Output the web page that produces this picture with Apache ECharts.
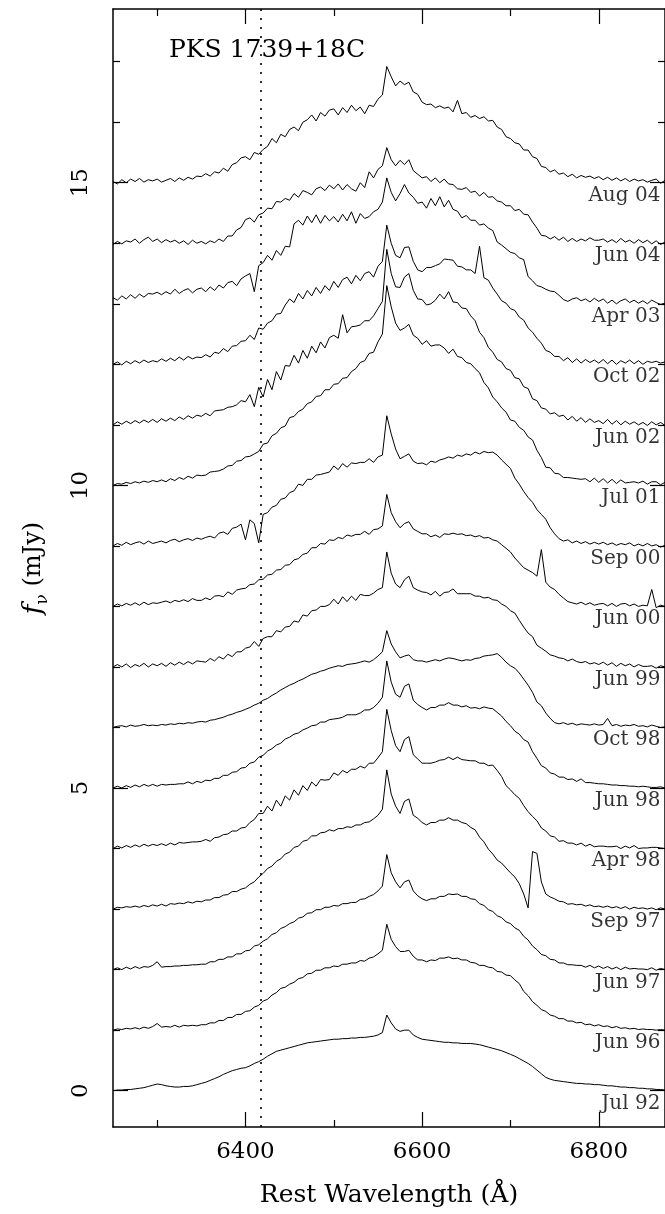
<!DOCTYPE html>
<html><head><meta charset="utf-8">
<script src="https://cdn.jsdelivr.net/npm/echarts@6/dist/echarts.min.js"></script>
<style>html,body{margin:0;padding:0;background:#fff}#c{width:665px;height:1214px}</style>
</head><body><div id="c"></div>
<script>
const wavelengths = [
6250,6255,6260,6265,6270,6275,6280,6285,6290,6295,
6300,6305,6310,6315,6320,6325,6330,6335,6340,6345,
6350,6355,6360,6365,6370,6375,6380,6385,6390,6395,
6400,6405,6410,6415,6420,6425,6430,6435,6440,6445,
6450,6455,6460,6465,6470,6475,6480,6485,6490,6495,
6500,6505,6510,6515,6520,6525,6530,6535,6540,6545,
6550,6555,6560,6565,6570,6575,6580,6585,6590,6595,
6600,6605,6610,6615,6620,6625,6630,6635,6640,6645,
6650,6655,6660,6665,6670,6675,6680,6685,6690,6695,
6700,6705,6710,6715,6720,6725,6730,6735,6740,6745,
6750,6755,6760,6765,6770,6775,6780,6785,6790,6795,
6800,6805,6810,6815,6820,6825,6830,6835,6840,6845,
6850,6855,6860,6865,6870,6875];

const epochs = ['Jul 92','Jun 96','Jun 97','Sep 97','Apr 98','Jun 98','Oct 98','Jun 99','Jun 00','Sep 00','Jul 01','Jun 02','Oct 02','Apr 03','Jun 04','Aug 04'];
const offsets = [0,1,2,3,4,5,6,7,8,9,10,11,12,13,14,15];

const fluxJul92 = [
0.0,0.01,0.01,0.02,0.02,0.03,0.04,0.05,0.07,0.09,
0.11,0.1,0.08,0.07,0.06,0.06,0.07,0.07,0.08,0.1,
0.12,0.14,0.17,0.2,0.23,0.27,0.3,0.33,0.35,0.37,
0.38,0.41,0.45,0.48,0.52,0.57,0.61,0.65,0.67,0.69,
0.71,0.73,0.75,0.77,0.79,0.8,0.81,0.82,0.83,0.84,
0.85,0.85,0.86,0.86,0.87,0.87,0.88,0.88,0.89,0.9,
0.92,0.96,1.25,1.12,1.02,0.98,1.0,1.0,0.92,0.88,
0.85,0.84,0.83,0.82,0.81,0.8,0.8,0.79,0.79,0.78,
0.78,0.78,0.77,0.76,0.74,0.72,0.7,0.68,0.66,0.63,
0.6,0.57,0.53,0.49,0.45,0.4,0.34,0.28,0.22,0.19,
0.17,0.16,0.15,0.14,0.13,0.12,0.12,0.11,0.11,0.1,
0.1,0.09,0.08,0.08,0.07,0.06,0.06,0.05,0.05,0.04,
0.04,0.03,0.03,0.02,0.02,0.01];

const fluxJun96 = [
0.0,0.02,0.01,0.03,0.02,0.04,0.02,0.05,0.03,0.06,
0.11,0.05,0.06,0.05,0.08,0.05,0.08,0.07,0.08,0.07,
0.09,0.09,0.12,0.12,0.16,0.16,0.21,0.21,0.26,0.26,
0.31,0.32,0.38,0.41,0.48,0.51,0.58,0.62,0.69,0.71,
0.76,0.79,0.85,0.87,0.93,0.94,0.99,0.99,1.03,1.03,
1.06,1.05,1.09,1.09,1.11,1.11,1.15,1.14,1.19,1.21,
1.26,1.32,1.75,1.5,1.38,1.3,1.3,1.32,1.22,1.16,
1.16,1.13,1.16,1.15,1.19,1.19,1.21,1.18,1.19,1.16,
1.16,1.12,1.11,1.07,1.07,1.04,1.03,0.97,0.96,0.91,
0.9,0.83,0.77,0.64,0.57,0.47,0.41,0.34,0.31,0.25,
0.23,0.19,0.19,0.15,0.15,0.12,0.13,0.09,0.1,0.07,
0.09,0.06,0.07,0.04,0.06,0.03,0.04,0.02,0.03,0.01,
0.02,0.01,0.01,0.0,0.01,0.0];

const fluxJun97 = [
0.0,0.03,0.0,0.04,0.01,0.05,0.02,0.05,0.04,0.07,
0.13,0.04,0.05,0.05,0.06,0.06,0.07,0.07,0.08,0.08,
0.09,0.09,0.13,0.13,0.17,0.17,0.21,0.21,0.26,0.26,
0.31,0.32,0.39,0.41,0.47,0.51,0.58,0.61,0.68,0.71,
0.76,0.79,0.85,0.87,0.93,0.94,0.99,0.99,1.03,1.03,
1.06,1.05,1.09,1.09,1.11,1.11,1.16,1.17,1.21,1.24,
1.3,1.38,1.9,1.6,1.45,1.35,1.45,1.48,1.3,1.22,
1.17,1.14,1.17,1.17,1.21,1.21,1.25,1.24,1.25,1.21,
1.21,1.17,1.16,1.09,1.06,0.99,0.96,0.89,0.86,0.79,
0.76,0.69,0.65,0.55,0.49,0.39,0.33,0.25,0.23,0.17,
0.16,0.11,0.11,0.08,0.08,0.07,0.07,0.04,0.07,0.03,
0.06,0.02,0.05,0.01,0.04,0.0,0.04,0.01,0.02,0.01,
0.01,0.0,0.03,-0.01,0.02,0.0];

const fluxSep97 = [
0.0,0.03,0.02,0.04,0.03,0.05,0.03,0.06,0.04,0.07,
0.05,0.08,0.05,0.09,0.08,0.1,0.09,0.12,0.1,0.13,
0.12,0.15,0.15,0.19,0.19,0.23,0.24,0.29,0.29,0.33,
0.35,0.41,0.45,0.53,0.59,0.67,0.71,0.79,0.83,0.91,
0.94,1.02,1.04,1.12,1.14,1.21,1.21,1.26,1.27,1.31,
1.29,1.33,1.33,1.36,1.35,1.39,1.39,1.43,1.44,1.49,
1.55,1.65,2.3,1.9,1.7,1.58,1.78,1.82,1.55,1.5,
1.43,1.39,1.43,1.43,1.47,1.47,1.51,1.47,1.47,1.43,
1.41,1.35,1.31,1.19,1.11,0.99,0.91,0.81,0.76,0.68,
0.6,0.53,0.42,0.25,0.02,0.95,0.92,0.45,0.25,0.2,
0.17,0.13,0.12,0.08,0.09,0.07,0.08,0.05,0.07,0.04,
0.05,0.03,0.05,0.02,0.04,0.01,0.04,0.0,0.03,0.01,
0.02,0.0,0.02,-0.01,0.02,0.0];

const fluxApr98 = [
0.0,0.04,0.01,0.05,0.02,0.06,0.03,0.07,0.04,0.07,
0.05,0.08,0.05,0.09,0.06,0.1,0.09,0.1,0.11,0.11,
0.12,0.15,0.12,0.18,0.19,0.23,0.24,0.29,0.29,0.34,
0.35,0.43,0.48,0.58,0.58,0.7,0.62,0.8,0.7,0.87,
0.8,0.97,0.88,1.04,0.96,1.1,1.03,1.14,1.13,1.14,
1.25,1.21,1.29,1.25,1.31,1.31,1.36,1.33,1.41,1.41,
1.5,1.6,2.3,1.95,1.7,1.6,1.8,1.85,1.55,1.48,
1.41,1.41,1.41,1.43,1.46,1.47,1.51,1.47,1.51,1.47,
1.46,1.45,1.45,1.41,1.41,1.37,1.38,1.29,1.19,1.04,
0.97,0.89,0.83,0.71,0.61,0.53,0.46,0.34,0.29,0.21,
0.19,0.12,0.13,0.09,0.09,0.06,0.09,0.04,0.07,0.03,
0.04,0.04,0.03,0.03,0.04,0.0,0.04,0.01,0.05,0.0,
0.01,0.01,0.02,0.02,0.01,0.0];

const fluxJun98 = [
0.0,0.03,0.0,0.04,0.01,0.05,0.02,0.06,0.03,0.06,
0.03,0.06,0.05,0.06,0.06,0.07,0.07,0.1,0.07,0.11,
0.09,0.13,0.12,0.16,0.16,0.21,0.21,0.26,0.27,0.33,
0.34,0.41,0.43,0.51,0.54,0.61,0.65,0.71,0.74,0.81,
0.84,0.89,0.91,0.96,0.99,1.03,1.04,1.09,1.09,1.13,
1.14,1.15,1.17,1.21,1.21,1.21,1.24,1.29,1.29,1.33,
1.4,1.5,2.1,1.75,1.55,1.5,1.68,1.72,1.45,1.38,
1.33,1.29,1.33,1.33,1.37,1.37,1.41,1.37,1.37,1.34,
1.36,1.32,1.33,1.31,1.34,1.32,1.31,1.25,1.19,1.1,
1.03,0.94,0.89,0.8,0.76,0.6,0.49,0.37,0.33,0.25,
0.23,0.18,0.18,0.14,0.15,0.11,0.15,0.09,0.09,0.08,
0.07,0.07,0.06,0.05,0.05,0.04,0.04,0.03,0.03,0.02,
0.03,0.02,0.01,0.01,0.02,0.0];

const fluxOct98 = [
0.0,0.02,0.03,0.01,0.04,0.02,0.03,0.05,0.03,0.04,
0.03,0.05,0.04,0.06,0.05,0.07,0.06,0.08,0.07,0.09,
0.1,0.09,0.12,0.13,0.15,0.17,0.2,0.22,0.25,0.27,
0.3,0.33,0.37,0.4,0.45,0.48,0.53,0.57,0.62,0.66,
0.7,0.73,0.77,0.8,0.84,0.88,0.9,0.93,0.95,0.98,
1.0,1.02,1.01,1.04,1.05,1.06,1.08,1.1,1.08,1.12,
1.18,1.25,1.6,1.38,1.25,1.15,1.18,1.2,1.12,1.1,
1.1,1.08,1.1,1.12,1.1,1.13,1.15,1.14,1.12,1.1,
1.12,1.11,1.14,1.15,1.18,1.19,1.2,1.22,1.16,1.08,
1.02,0.98,0.9,0.8,0.7,0.58,0.42,0.36,0.24,0.15,
0.08,0.06,0.08,0.05,0.07,0.04,0.06,0.05,0.04,0.06,
0.04,0.05,0.15,0.03,0.05,0.02,0.04,0.03,0.05,0.02,
0.03,0.01,0.04,0.02,0.0,0.01];

const fluxJun99 = [
0.0,0.04,0.0,0.05,-0.01,0.04,0.01,0.06,0.0,0.05,
0.02,0.06,0.01,0.07,0.03,0.08,0.04,0.09,0.05,0.1,
0.09,0.08,0.14,0.1,0.17,0.13,0.21,0.17,0.25,0.25,
0.31,0.33,0.42,0.34,0.47,0.5,0.5,0.6,0.58,0.66,
0.67,0.76,0.74,0.86,0.84,0.93,0.94,1.0,1.0,1.03,
1.12,1.04,1.16,1.08,1.17,1.1,1.2,1.18,1.18,1.22,
1.28,1.31,1.9,1.55,1.37,1.31,1.44,1.5,1.31,1.27,
1.24,1.23,1.19,1.25,1.17,1.23,1.24,1.29,1.21,1.21,
1.21,1.21,1.17,1.17,1.14,1.15,1.11,1.1,1.04,1.0,
0.93,0.89,0.77,0.66,0.56,0.5,0.36,0.31,0.26,0.2,
0.18,0.15,0.14,0.1,0.13,0.09,0.07,0.09,0.05,0.07,
0.04,0.08,0.03,0.07,0.01,0.06,0.02,0.05,0.0,0.04,
0.01,0.01,0.02,-0.02,0.02,0.0];

const fluxJun00 = [
0.0,0.04,0.01,0.05,0.02,0.06,0.02,0.07,0.03,0.06,
0.05,0.07,0.09,0.06,0.1,0.08,0.11,0.08,0.13,0.1,
0.1,0.14,0.11,0.17,0.18,0.16,0.24,0.2,0.27,0.29,
0.3,0.36,0.37,0.44,0.45,0.52,0.53,0.6,0.61,0.68,
0.69,0.77,0.79,0.86,0.88,0.97,0.97,1.04,1.03,1.1,
1.09,1.14,1.12,1.18,1.16,1.19,1.19,1.24,1.19,1.27,
1.28,1.33,1.85,1.55,1.4,1.3,1.37,1.4,1.28,1.24,
1.2,1.2,1.15,1.18,1.14,1.2,1.19,1.21,1.19,1.2,
1.17,1.18,1.15,1.17,1.13,1.14,1.1,1.08,1.02,0.96,
0.9,0.8,0.72,0.64,0.6,0.56,0.5,0.94,0.4,0.32,
0.28,0.2,0.14,0.08,0.06,0.04,0.07,0.03,0.06,0.02,
0.04,0.05,0.01,0.05,0.0,0.04,0.05,0.01,0.04,0.0,
0.02,0.01,0.28,-0.02,0.02,0.0];

const fluxSep00 = [
0.0,0.04,0.01,0.06,0.02,0.05,0.07,0.03,0.08,0.04,
0.06,0.08,0.05,0.09,0.11,0.07,0.1,0.12,0.09,0.13,
0.11,0.14,0.16,0.13,0.21,0.23,0.19,0.29,0.31,0.36,
0.1,0.43,0.37,0.05,0.52,0.55,0.64,0.67,0.77,0.79,
0.88,0.91,1.02,1.0,1.1,1.1,1.17,1.18,1.2,1.22,
1.32,1.26,1.36,1.3,1.37,1.36,1.38,1.38,1.44,1.38,
1.47,1.5,2.15,1.85,1.6,1.44,1.48,1.52,1.4,1.36,
1.37,1.34,1.4,1.38,1.42,1.44,1.47,1.45,1.5,1.48,
1.52,1.5,1.55,1.52,1.56,1.54,1.55,1.5,1.42,1.35,
1.28,1.12,1.02,0.9,0.8,0.72,0.6,0.52,0.44,0.3,
0.2,0.12,0.08,0.1,0.05,0.08,0.04,0.07,0.03,0.06,
0.03,0.06,0.02,0.05,0.01,0.04,0.02,0.05,0.0,0.03,
0.0,0.04,0.0,0.02,-0.02,0.01];

const fluxJul01 = [
0.0,0.03,0.02,0.05,0.03,0.06,0.04,0.07,0.05,0.08,
0.06,0.09,0.06,0.11,0.08,0.13,0.1,0.15,0.12,0.17,
0.16,0.17,0.22,0.23,0.24,0.27,0.32,0.33,0.4,0.41,
0.47,0.48,0.52,0.56,0.68,0.7,0.82,0.86,0.95,0.98,
1.12,1.14,1.22,1.26,1.35,1.38,1.47,1.48,1.58,1.58,
1.67,1.68,1.77,1.78,1.88,1.93,2.03,2.06,2.18,2.2,
2.37,2.5,3.3,2.95,2.68,2.56,2.6,2.66,2.48,2.43,
2.33,2.39,2.3,2.32,2.32,2.27,2.18,2.25,2.13,2.11,
2.03,2.01,1.93,1.86,1.7,1.61,1.46,1.38,1.28,1.21,
1.08,1.06,0.96,0.91,0.8,0.75,0.58,0.46,0.3,0.29,
0.2,0.19,0.13,0.13,0.12,0.11,0.1,0.11,0.06,0.12,
0.05,0.11,0.04,0.1,0.03,0.09,0.04,0.05,0.06,0.04,
0.07,0.02,0.06,0.06,0.01,0.05];

const fluxJun02 = [
0.0,0.05,0.01,0.06,0.02,0.07,0.03,0.08,0.04,0.09,
0.04,0.1,0.06,0.11,0.07,0.13,0.09,0.15,0.11,0.16,
0.14,0.19,0.15,0.23,0.24,0.25,0.29,0.3,0.33,0.4,
0.38,0.5,0.3,0.62,0.46,0.75,0.58,0.88,0.74,0.98,
0.97,1.15,1.02,1.23,1.1,1.3,1.19,1.37,1.27,1.44,
1.48,1.43,1.82,1.52,1.62,1.63,1.65,1.72,1.72,1.8,
1.92,2.04,2.9,2.5,2.28,2.27,2.44,2.5,2.22,2.08,
2.07,1.98,2.0,2.06,2.16,2.08,2.2,2.03,2.02,1.93,
1.92,1.8,1.72,1.53,1.44,1.28,1.2,1.08,1.04,0.93,
0.9,0.78,0.76,0.63,0.6,0.43,0.4,0.28,0.26,0.18,
0.2,0.14,0.16,0.08,0.14,0.06,0.12,0.04,0.1,0.04,
0.07,0.02,0.09,0.01,0.07,0.0,0.06,0.01,0.05,0.0,
0.04,-0.01,0.05,0.0,0.04,-0.01];

const fluxOct02 = [
0.0,0.04,-0.01,0.05,0.01,0.06,0.02,0.07,0.03,0.06,
0.04,0.09,0.05,0.1,0.06,0.12,0.07,0.13,0.09,0.12,
0.11,0.16,0.12,0.2,0.18,0.26,0.21,0.3,0.31,0.38,
0.39,0.48,0.41,0.6,0.58,0.68,0.72,0.83,0.84,0.98,
1.08,1.02,1.17,1.08,1.22,1.13,1.27,1.17,1.3,1.22,
1.37,1.27,1.4,1.44,1.33,1.47,1.38,1.5,1.53,1.44,
1.62,1.7,2.3,2.0,1.8,1.76,1.93,1.94,1.7,1.56,
1.53,1.6,1.6,1.63,1.66,1.74,1.73,1.72,1.62,1.61,
1.56,1.56,1.5,1.95,1.43,1.39,1.26,1.16,1.05,1.01,
0.92,0.89,0.78,0.73,0.6,0.53,0.43,0.35,0.23,0.2,
0.13,0.13,0.06,0.11,0.03,0.09,0.02,0.08,0.03,0.07,
0.02,0.08,0.01,0.07,0.0,0.06,0.02,0.07,0.01,0.06,
0.0,0.05,0.03,0.05,0.02,0.04];

const fluxApr03 = [
0.1,0.06,0.13,0.08,0.15,0.09,0.16,0.11,0.17,0.16,
0.19,0.15,0.2,0.16,0.24,0.17,0.22,0.25,0.18,0.24,
0.26,0.2,0.28,0.22,0.31,0.26,0.35,0.37,0.3,0.41,
0.46,0.5,0.2,0.63,0.68,0.8,0.72,0.88,0.8,0.95,
0.94,1.32,1.38,1.3,1.45,1.34,1.47,1.33,1.46,1.37,
1.44,1.35,1.48,1.37,1.52,1.33,1.49,1.41,1.44,1.52,
1.56,1.68,2.08,1.84,1.7,1.82,1.97,1.83,1.76,1.66,
1.68,1.58,1.74,1.62,1.77,1.6,1.71,1.56,1.53,1.42,
1.46,1.38,1.38,1.3,1.32,1.25,1.21,1.02,0.97,0.91,
0.85,0.83,0.76,0.73,0.45,0.38,0.3,0.28,0.24,0.21,
0.2,0.14,0.07,0.04,0.08,0.1,0.05,0.08,0.03,0.09,
0.04,0.08,0.01,0.06,0.0,0.05,0.08,0.02,0.06,0.01,
0.05,0.0,0.06,0.02,-0.01,0.01];

const fluxJun04 = [
-0.02,0.03,-0.01,0.04,0.02,0.07,0.0,0.06,0.1,0.03,
0.07,0.01,0.06,0.02,0.05,0.0,0.04,-0.02,0.05,0.0,
0.03,-0.01,0.04,0.01,0.07,0.03,0.12,0.12,0.22,0.26,
0.39,0.42,0.35,0.47,0.5,0.58,0.57,0.69,0.68,0.74,
0.71,0.82,0.76,0.87,0.84,0.8,0.9,0.93,0.87,0.96,
0.9,0.98,0.88,0.97,0.9,0.86,1.0,0.92,1.18,1.08,
1.22,1.28,1.58,1.38,1.28,1.37,1.3,1.38,1.2,1.14,
1.08,1.1,1.02,1.08,1.0,1.06,0.98,0.97,0.9,0.89,
0.92,0.84,0.86,0.78,0.84,0.76,0.77,0.7,0.68,0.62,
0.62,0.54,0.56,0.48,0.47,0.35,0.25,0.13,0.12,0.07,
0.11,0.05,0.1,0.03,0.08,0.03,0.07,0.04,0.09,0.05,
0.05,0.07,0.02,0.06,0.01,0.08,0.02,0.05,0.0,0.06,
0.01,0.05,-0.01,0.04,-0.02,0.02];

const fluxAug04 = [
0.02,-0.02,0.05,0.0,0.06,0.02,0.07,0.01,0.05,0.03,
0.06,0.01,0.04,0.07,0.02,0.08,0.04,0.09,0.06,0.11,
0.1,0.15,0.11,0.18,0.16,0.24,0.19,0.3,0.33,0.41,
0.43,0.38,0.5,0.47,0.55,0.6,0.73,0.66,0.8,0.76,
0.88,0.92,0.86,1.0,1.04,1.12,1.02,1.16,1.1,1.2,
1.22,1.12,1.24,1.16,1.28,1.19,1.25,1.14,1.28,1.26,
1.38,1.45,1.92,1.75,1.6,1.68,1.62,1.66,1.5,1.46,
1.33,1.29,1.3,1.24,1.27,1.23,1.25,1.17,1.36,1.14,
1.16,1.08,1.11,1.06,1.09,1.02,1.03,0.92,0.88,0.76,
0.73,0.66,0.64,0.54,0.54,0.43,0.4,0.27,0.25,0.18,
0.21,0.14,0.16,0.1,0.14,0.08,0.12,0.09,0.11,0.07,
0.1,0.05,0.09,0.04,0.08,0.03,0.07,0.02,0.06,0.03,
0.05,0.01,0.04,0.06,-0.01,0.04];

const fluxes = [fluxJul92,fluxJun96,fluxJun97,fluxSep97,fluxApr98,fluxJun98,fluxOct98,fluxJun99,fluxJun00,fluxSep00,fluxJul01,fluxJun02,fluxOct02,fluxApr03,fluxJun04,fluxAug04];

const yMajorTicks = [0,5,10,15];
const yMinorTicks = [1,2,3,4,6,7,8,9,11,12,13,14,16,17];
const xMajorTicks = [6400,6600,6800];
const xMinorTicks = [6300,6500,6700];
const markerWavelength = 6417;
const objectName = 'PKS 1739+18C';

const FONT = 'DejaVu Serif';
const X_MIN = 6250, X_MAX = 6875, Y_MIN = -0.6, Y_MAX = 17.87;

function xAx(pos, ticks, len, showLine, showLabels, extra) {
  return Object.assign({
    type: 'value', position: pos, min: X_MIN, max: X_MAX,
    axisLine: { show: showLine, onZero: false, lineStyle: { color: '#000', width: 1.5 } },
    axisTick: { show: true, inside: true, length: len, customValues: ticks, lineStyle: { color: '#000', width: 1.2 } },
    axisLabel: showLabels ? { show: true, customValues: ticks, formatter: v => String(v), fontFamily: FONT, fontSize: 23, color: '#000', margin: 14 } : { show: false },
    splitLine: { show: false }
  }, extra || {});
}
function yAx(pos, ticks, len, showLine, showLabels, extra) {
  return Object.assign({
    type: 'value', position: pos, min: Y_MIN, max: Y_MAX,
    axisLine: { show: showLine, onZero: false, lineStyle: { color: '#000', width: 1.5 } },
    axisTick: { show: true, inside: true, length: len, customValues: ticks, lineStyle: { color: '#000', width: 1.2 } },
    axisLabel: showLabels ? { show: true, customValues: ticks, formatter: v => String(v), rotate: 90, fontFamily: FONT, fontSize: 23, color: '#000', margin: 20 } : { show: false },
    splitLine: { show: false }
  }, extra || {});
}

const series = fluxes.map((f, k) => ({
  type: 'line', name: epochs[k], xAxisIndex: 0, yAxisIndex: 0,
  showSymbol: false, symbol: 'none', animation: false,
  lineStyle: { color: '#000', width: 1 },
  data: wavelengths.map((w, i) => [w, +(f[i] + offsets[k]).toFixed(3)]),
  markLine: k === 0 ? {
    silent: true, symbol: ['none', 'none'], animation: false,
    label: { show: false },
    lineStyle: { color: '#000', width: 1.6, type: [2, 7] },
    data: [{ xAxis: markerWavelength }]
  } : undefined
}));

series.push({
  type: 'scatter', xAxisIndex: 0, yAxisIndex: 0, symbolSize: 0, animation: false, silent: true,
  data: epochs.map((e, k) => ({ value: [6872, offsets[k] - 0.21], name: e })),
  label: { show: true, position: 'left', distance: 2, formatter: p => p.name,
    fontFamily: FONT, fontSize: 20, color: '#000' }
});

const chart = echarts.init(document.getElementById('c'), null, { renderer: 'canvas' });
chart.setOption({
  backgroundColor: '#fff',
  animation: false,
  title: { text: objectName, left: 164, top: 33, textStyle: { fontFamily: FONT, fontSize: 25, fontWeight: 'normal', color: '#000' } },
  grid: { left: 113, top: 9, width: 555, height: 1118, containLabel: false },
  xAxis: [
    xAx('bottom', xMajorTicks, 15, true, true, {
      name: 'Rest Wavelength (Å)', nameLocation: 'middle', nameGap: 56,
      nameTextStyle: { fontFamily: FONT, fontSize: 25, color: '#000' } }),
    xAx('bottom', xMinorTicks, 7, false, false),
    xAx('top', xMajorTicks, 15, true, false),
    xAx('top', xMinorTicks, 7, false, false)
  ],
  yAxis: [
    yAx('left', yMajorTicks, 15, true, true, {
      name: '{i|f}{s|ν} (mJy)', nameLocation: 'middle', nameGap: 62,
      nameTextStyle: { fontFamily: FONT, fontSize: 24, color: '#000',
        rich: { i: { fontFamily: FONT, fontStyle: 'italic', fontSize: 26, color: '#000' },
                s: { fontFamily: FONT, fontSize: 17, color: '#000', verticalAlign: 'bottom', lineHeight: 34 } } } }),
    yAx('left', yMinorTicks, 7, false, false),
    yAx('right', yMajorTicks, 15, true, false),
    yAx('right', yMinorTicks, 7, false, false)
  ],
  series: series
});
</script></body></html>
